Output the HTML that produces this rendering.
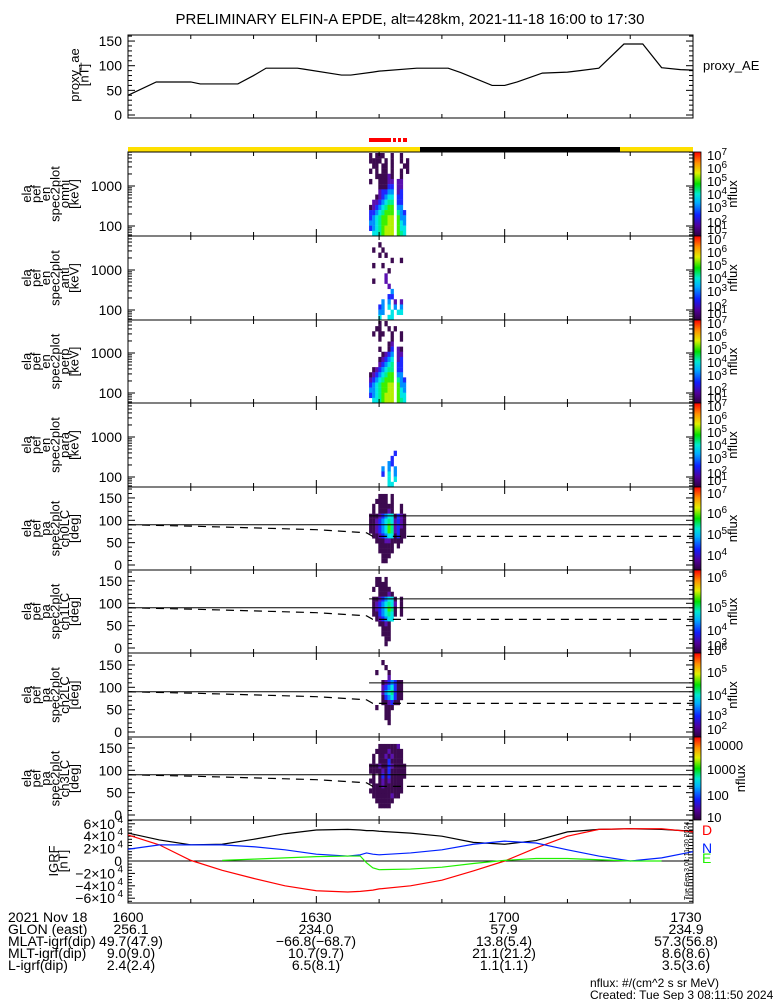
<!DOCTYPE html>
<html><head><meta charset="utf-8"><style>
body{margin:0;background:#fff}
svg{display:block;font-family:"Liberation Sans",sans-serif}
</style></head><body>
<svg id="chart" width="775" height="1000" viewBox="0 0 775 1000" xmlns="http://www.w3.org/2000/svg">
<rect width="775" height="1000" fill="#fff"/>
<text x="410" y="24" font-size="15" text-anchor="middle">PRELIMINARY ELFIN-A EPDE, alt=428km, 2021-11-18 16:00 to 17:30</text>
<g id="g"></g>
</svg>
<script>
// ---- data ----
const aeTimes=[0,4.5,10,11.5,17.5,20,22,27,28,34,35.5,39,40,46,51,53,58,60,62,66,70,72,75,79,82,85,88,90];
const aeValues=[40,67,67,63,63,80,95,95,93,81,81,87,89,95,95,86,60,60,67,85,87,90,95,144,144,96,92,91];
const igrfTimes=[0,5,10,15,20,25,30,35,37,38,39,40,45,50,55,60,65,70,75,80,85,90];
const igrfTotal=[4.5,3.4,2.6,2.7,3.5,4.4,5.0,5.1,5.0,4.9,4.9,4.8,4.5,4.0,3.0,2.7,3.3,4.7,5.1,5.2,5.1,4.8];
const igrfD=[4.2,2.6,0.1,-1.5,-2.8,-4.0,-4.8,-5.0,-4.9,-4.8,-4.7,-4.5,-4.0,-3.1,-1.6,0,2.1,4.0,5.1,5.2,5.2,4.7];
const igrfN=[1.9,2.6,2.6,2.6,2.3,1.8,1.1,0.8,1.0,1.3,1.1,1.0,1.3,1.8,2.7,3.2,2.9,1.8,0.8,0,0.5,1.5];
const igrfE=[null,null,null,0.1,0.3,0.5,0.7,0.8,0.8,-0.3,-1.1,-1.4,-1.3,-1.0,-0.4,0.1,0.4,0.4,0.2,0.0,0.0,null];
const lcTimes=[0,10,20,30,38,39,90];
const lcValues=[90,87,83,79,72,64,64];
const specStart=38.4, specStep=0.49;
const specOmni=["1011100100100","1111010100101","0110110100011","1010110100101","0011112100100","1001112202200","0001113302200","0002334402300","0012345503300","0223456603300","1234567704400","3345677706430","3456778807440","4456778807540","3456788807550","0556788807650"];
const specAnti=["0000000000000","0001000000000","0100100000000","0001010000000","0000000100100","0100100000000","0000001000000","0000020000000","0100020000000","0000002000000","0000000400000","0000003300000","0000404020200","0003405040400","0004400505500","0005005500000"];
const specPerp=["0001010000000","0011001010000","0101100100100","0001000100100","0000001200000","0001001302100","0000123402200","0001234502300","0002345603300","0123456603300","1234567704400","2345677706430","3456778807440","4456778807540","3456788807550","0556788807650"];
const specPara=["0000000000000","0000000000000","0000000000000","0000000000000","0000000000000","0000000000000","0000000000000","0000000000000","0000000000000","0000000030000","0000000300000","0000004300000","0000404040000","0000305040000","0000005050000","0000005500000"];
const paCh0=["0000000000000","0001110100000","0011110100000","0101111100100","0101112100100","1112345513210","1123456523210","1123457623210","1123457623110","0112345513110","0011122111100","0001111101000","0001111100000","0000111000000","0000110000000","0000000000000"];
const paCh1=["0000000000000","0011010000000","0011110000000","0101111000000","0001112100000","0112345510100","0123456520100","0123457610100","0113456510100","0012345500000","0001121000000","0000111000000","0000111000000","0000011000000","0000010000000","0000000000000"];
const paCh2=["0000000000000","0000100000000","0000010000000","0010001000000","0000002000000","0000123431100","0000234531100","0000245631100","0000134531100","0000112311000","0010011100000","0000011000000","0000011000000","0000001000000","0000000000000","0000000000000"];
const paCh3=["0000000000000","0001111112000","0011112111100","0101121211100","0101113111100","1112113211110","1111213111110","0101313111110","1101212111100","0111211111100","1111111111100","0111111211000","0011111100000","0001111000000","0000000000000","0000000000000"];
const cbLabels1=[["10","7",3],["10","6",16],["10","5",29],["10","4",42],["10","3",55],["10","2",70],["10","1",77]];
const cbPA0=[["10","7",6],["10","6",26],["10","5",47],["10","4",68]];
const cbPA1=[["10","6",7],["10","5",37],["10","4",60],["10","3",75]];
const cbPA2=[["10","6",-3],["10","5",19],["10","4",42],["10","3",62],["10","2",76]];
const cbPA3=[["10000","",8],["1000","",32],["100","",58],["10","",80]];
const antiLcDeg=110;

// ---- helpers ----
const NS="http://www.w3.org/2000/svg";
const G=document.getElementById('g');
const X0=128,X1=693;
function X(m){return X0+m*(X1-X0)/90;}
function el(tag,at,parent){const e=document.createElementNS(NS,tag);for(const k in at)e.setAttribute(k,at[k]);(parent||G).appendChild(e);return e;}
function txt(s,x,y,size,anchor,parent){const t=el('text',{x:x,y:y,'font-size':size||14,'text-anchor':anchor||'start'},parent);t.textContent=s;return t;}
const COLORS=[null,'#3c0a50','#5a10b0','#1e28ff','#0090ff','#00e6e6','#00f090','#3cf000','#b4f000'];

function frame(y0,y1,name){
  const f=el('rect',{x:X0,y:y0,width:X1-X0,height:y1-y0,fill:'none',stroke:'#000','stroke-width':1});
  
  
  for(let m=0;m<=90;m+=10){const L=(m%30==0)?7:4;
    el('line',{x1:X(m),x2:X(m),y1:y1,y2:y1-L,stroke:'#000'});
    el('line',{x1:X(m),x2:X(m),y1:y0,y2:y0+L,stroke:'#000'});}
}
function ytick(y,L){el('line',{x1:X0,x2:X0+L,y1:y,y2:y,stroke:'#000'});el('line',{x1:X1,x2:X1-L,y1:y,y2:y,stroke:'#000'});}
function sideLabel(lines,cy,x0,name){
  const g=el('g',{});
  
  
  lines.forEach((s,i)=>{const t=txt(s,0,0,13,'middle',g);t.setAttribute('transform','translate('+(x0+i*9.5)+','+cy+') rotate(-90)');});
}
function colorbar(y0,y1,labels,name){
  const id='cb'+Math.round(y0);
  const gr=el('linearGradient',{id:id,x1:0,y1:1,x2:0,y2:0});
  [['0','#300040'],['0.12','#50009a'],['0.25','#1020ff'],['0.4','#00b0ff'],['0.5','#00e8d0'],['0.62','#00e000'],['0.75','#e0f000'],['0.87','#ff9000'],['1','#ff0000']].forEach(s=>el('stop',{offset:s[0],'stop-color':s[1]},gr));
  const r=el('rect',{x:694,y:y0,width:7,height:y1-y0,fill:'url(#'+id+')',stroke:'#000','stroke-width':0.8});
  
  
  labels.forEach(l=>{const t=txt(l[0],707,y0+l[2]+5,13);if(l[1]){const s=el('tspan',{dy:-5,'font-size':10},t);s.textContent=l[1];}});
  const n=txt('nflux',0,0,13,'middle');n.setAttribute('transform','translate('+(labels[0][0].length>2?745:737)+','+((y0+y1)/2)+') rotate(-90)');
}
function spec(mat,y0,y1,name){
  const rows=mat.length,h=(y1-y0)/rows;
  mat.forEach((row,r)=>{for(let c=0;c<row.length;c++){const v=+row[c];if(!v)continue;
    const x=X(specStart+c*specStep),w=X(specStart+(c+1)*specStep)-x;
    const e=el('rect',{x:x,y:y0+r*h,width:w+0.2,height:h+0.2,fill:COLORS[v]});
    
    }});
}
function stepPath(ts,vs,fx,fy,stroke,name,dash){
  let d='',prev=null;
  for(let i=0;i<ts.length;i++){if(vs[i]==null){prev=null;continue;}
    const x=fx(ts[i]),y=fy(vs[i]);d+=(prev==null?'M':'L')+x+','+y;prev=1;}
  const p=el('path',{d:d,fill:'none',stroke:stroke,'stroke-width':1.2});
  if(dash)p.setAttribute('stroke-dasharray',dash);
  
  
  return p;
}

// ---- top panel proxy_AE ----
const AEy=v=>115-v*0.493;
frame(35,118,'proxy-ae-panel');
for(let v=0;v<=160;v+=10){if(AEy(v)<35)continue;ytick(AEy(v),v%50==0?7:4);}
[0,50,100,150].forEach(v=>txt(String(v),122,AEy(v)+5,14,'end'));
sideLabel(['proxy_ae','[nT]'],75,79,'proxy-ae-axis-title');
stepPath(aeTimes,aeValues,X,AEy,'#000','proxy-ae-line');
txt('proxy_AE',703,70,13);

// ---- orbit bars ----
let b=el('rect',{x:X0,y:147,width:292,height:5,fill:'#ffe000'});
b=el('rect',{x:420,y:147,width:200,height:5,fill:'#000'});
b=el('rect',{x:620,y:147,width:73,height:5,fill:'#ffe000'});
[[369,22],[393,3],[398,3],[403,4]].forEach(s=>{const r=el('rect',{x:s[0],y:138,width:s[1],height:4,fill:'#f00'});});

// ---- energy spectrogram panels ----
const P=[152,236,320,403,487,570,653,737,820];
const specMats=[specOmni,specAnti,specPerp,specPara];
const specNames=['omni','anti','perp','para'];
for(let i=0;i<4;i++){
  const y0=P[i],y1=P[i+1];
  const Ey=e=>(y1-10)-(Math.log10(e)-2)*40;
  spec(specMats[i],y0+1,y1,'spec-'+specNames[i]);
  frame(y0,y1,'spec-'+specNames[i]+'-panel');
  for(let d=10;d<=1000;d*=10)for(let k=1;k<10;k++){const e=d*k;const y=Ey(e);if(y<y0||y>y1)continue;ytick(y,k==1?7:4);}
  [100,1000].forEach(e=>txt(String(e),122,Ey(e)+5,14,'end'));
  sideLabel(['ela','pef','en','spec2plot',specNames[i],'[keV]'],(y0+y1)/2,31,'spec-'+specNames[i]+'-axis-title');
  colorbar(y0,y1,cbLabels1,'colorbar-'+specNames[i]);
}
// ---- pitch angle panels ----
const paMats=[paCh0,paCh1,paCh2,paCh3];
const cbs=[cbPA0,cbPA1,cbPA2,cbPA3];
for(let i=0;i<4;i++){
  const y0=P[4+i],y1=P[5+i];
  const Ay=a=>(y1-5)-a*0.447;
  spec(paMats[i],y0+2,y1-2,'pa-ch'+i);
  frame(y0,y1,'pa-ch'+i+'-panel');
  for(let a=0;a<=170;a+=10)ytick(Ay(a),a%50==0?7:4);
  [0,50,100,150].forEach(a=>txt(String(a),122,Ay(a)+5,14,'end'));
  sideLabel(['ela','pef','pa','spec2plot','ch'+i+'LC','[deg]'],(y0+y1)/2,31,'pa-ch'+i+'-axis-title');
  let l=el('line',{x1:X0,x2:X1,y1:Ay(90),y2:Ay(90),stroke:'#000'});
  l=el('line',{x1:X(specStart),x2:X1,y1:Ay(antiLcDeg),y2:Ay(antiLcDeg),stroke:'#000'});
  stepPath(lcTimes,lcValues,X,Ay,'#000','loss-cone-line','8,6');
  colorbar(y0,y1,cbs[i],'colorbar-pa-ch'+i);
}
// ---- IGRF panel ----
const Iy=v=>861-v*6.2;
frame(820,903,'igrf-panel');
for(let v=-6.5;v<=6.5;v+=0.5)ytick(Iy(v),Number.isInteger(v/2)?7:4);
[6,4,2,0,-2,-4,-6].forEach(v=>{
  if(v==0){txt('0',122,Iy(0)+5,14,'end');return;}
  txt((v<0?'\u2212':'')+Math.abs(v)+'\u00d710',115,Iy(v)+5,14,'end');
  txt('4',123,Iy(v)-1,10,'end');
});
el('line',{x1:X0,x2:X1,y1:Iy(0),y2:Iy(0),stroke:'#000'});
sideLabel(['IGRF','[nT]'],861,58,'igrf-axis-title');
stepPath(igrfTimes,igrfTotal,X,Iy,'#000','igrf-total-line');
stepPath(igrfTimes,igrfD,X,Iy,'#f00','igrf-d-line');
stepPath(igrfTimes,igrfN,X,Iy,'#0020ff','igrf-n-line');
stepPath(igrfTimes,igrfE,X,Iy,'#20f000','igrf-e-line');
let t=txt('D',702,835,14);t.setAttribute('fill','#f00');
t=txt('N',702,853,14);t.setAttribute('fill','#0020ff');
t=txt('E',702,863,14);t.setAttribute('fill','#20f000');
t=txt('Tue Sep  3 01:11:30 2024',0,0,7);t.setAttribute('transform','translate(689,900) rotate(-90)');

// ---- bottom annotation ----
const rowY=[922,934,946,958,970];
const rowNames=['2021 Nov 18','GLON (east)','MLAT-igrf(dip)','MLT-igrf(dip)','L-igrf(dip)'];
const colX=[128,316,504,686];
const cols=[['1600','256.1','49.7(47.9)','9.0(9.0)','2.4(2.4)'],['1630','234.0','\u221266.8(\u221268.7)','10.7(9.7)','6.5(8.1)'],['1700','57.9','13.8(5.4)','21.1(21.2)','1.1(1.1)'],['1730','234.9','57.3(56.8)','8.6(8.6)','3.5(3.6)']];
rowNames.forEach((s,i)=>txt(s,8,rowY[i],14));
cols.forEach((c,j)=>c.forEach((s,i)=>txt(s,colX[j]+(j==0&&i>0?3:0),rowY[i],14,'middle')));
txt('nflux: #/(cm^2 s sr MeV)',590,987,12);
txt('Created: Tue Sep  3 08:11:50 2024',590,999,12);
</script>
</body></html>
